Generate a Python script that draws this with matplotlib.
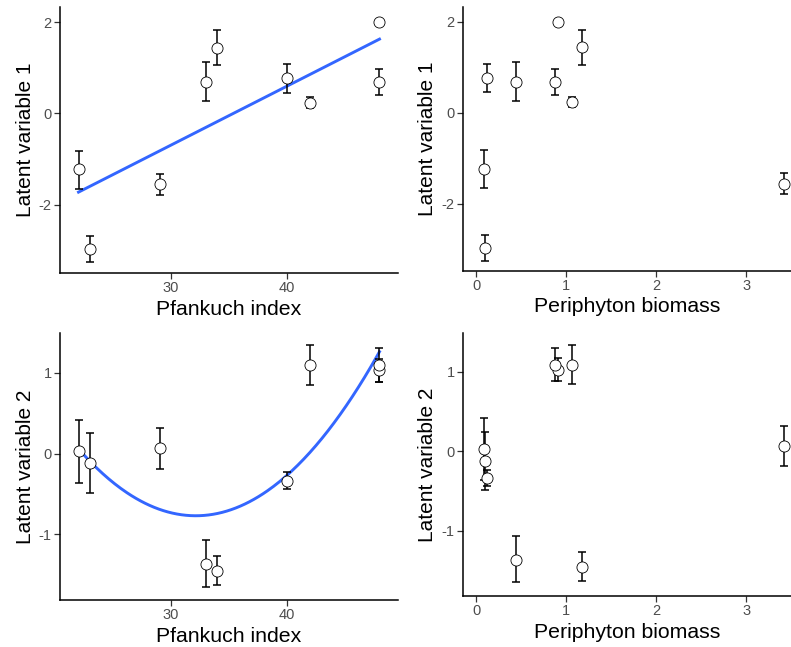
import numpy as np
import matplotlib
matplotlib.use("Agg")
import matplotlib.pyplot as plt

plt.rcParams['font.family'] = ['Liberation Sans', 'DejaVu Sans']
plt.rcParams['axes.unicode_minus'] = False

# Site data (9 sites)
pfankuch = [22, 23, 29, 33, 34, 40, 42, 48, 48]
periphyton = [0.085, 0.10, 3.42, 0.44, 1.17, 0.12, 1.06, 0.91, 0.87]

lv1 = [-1.23, -2.97, -1.56, 0.69, 1.44, 0.77, 0.23, 2.00, 0.69]
lv1_lo = [-1.65, -3.26, -1.78, 0.26, 1.05, 0.45, 0.12, 1.97, 0.40]
lv1_hi = [-0.82, -2.69, -1.33, 1.13, 1.83, 1.08, 0.35, 2.03, 0.97]

lv2 = [0.03, -0.12, 0.07, -1.37, -1.45, -0.34, 1.09, 1.03, 1.09]
lv2_lo = [-0.36, -0.49, -0.19, -1.65, -1.63, -0.44, 0.85, 0.88, 0.88]
lv2_hi = [0.42, 0.25, 0.32, -1.07, -1.27, -0.23, 1.34, 1.17, 1.30]

pf_ticks = [30, 40]
per_ticks = [0, 1, 2, 3]
lv1_ticks = [-2, 0, 2]
lv2_ticks = [-1, 0, 1]

W, H = 791, 647
fig = plt.figure(figsize=(W / 100, H / 100), dpi=100)

def ax_at(l, t, r, b):
    return fig.add_axes([l / W, 1 - b / H, (r - l) / W, (b - t) / H])

def panel(ax, x, y, lo, hi, xlim, ylim, xticks, yticks, xlabel, ylabel, fit_deg=None):
    x = np.asarray(x, float); y = np.asarray(y, float)
    lo = np.asarray(lo); hi = np.asarray(hi)
    if fit_deg is not None:
        c = np.polyfit(x, y, fit_deg)
        xs = np.linspace(x.min(), x.max(), 200)
        ax.plot(xs, np.polyval(c, xs), color='#3366FF', lw=2.1, zorder=2)
    ax.errorbar(x, y, yerr=[y - lo, hi - y], fmt='none', ecolor='black',
                elinewidth=1.1, capsize=2.9, capthick=1.1, zorder=3)
    ax.plot(x, y, 'o', ms=8, mfc='white', mec='black', mew=0.6, zorder=4)
    ax.set_xlim(*xlim); ax.set_ylim(*ylim)
    ax.set_xticks(xticks); ax.set_yticks(yticks)
    ax.set_xlabel(xlabel, fontsize=15.3, labelpad=3)
    ax.set_ylabel(ylabel, fontsize=15, labelpad=3)
    for s in ['top', 'right']:
        ax.spines[s].set_visible(False)
    for s in ['left', 'bottom']:
        ax.spines[s].set_linewidth(1.1)
        ax.spines[s].set_color('black')
    ax.tick_params(axis='both', labelsize=10.5, labelcolor='#4D4D4D', color='#333333',
                   length=4, width=0.9, pad=2)

ax1 = ax_at(60, 7, 398, 273)
panel(ax1, pfankuch, lv1, lv1_lo, lv1_hi, (20.4, 49.6), (-3.5, 2.33), pf_ticks, lv1_ticks,
      'Pfankuch index', 'Latent variable 1', fit_deg=1)
ax2 = ax_at(463, 7, 791, 271)
panel(ax2, periphyton, lv1, lv1_lo, lv1_hi, (-0.15, 3.5), (-3.48, 2.33), per_ticks, lv1_ticks,
      'Periphyton biomass', 'Latent variable 1')
ax3 = ax_at(60, 333, 398, 600)
panel(ax3, pfankuch, lv2, lv2_lo, lv2_hi, (20.4, 49.6), (-1.81, 1.49), pf_ticks, lv2_ticks,
      'Pfankuch index', 'Latent variable 2', fit_deg=2)
ax4 = ax_at(463, 333, 791, 596)
panel(ax4, periphyton, lv2, lv2_lo, lv2_hi, (-0.15, 3.5), (-1.82, 1.49), per_ticks, lv2_ticks,
      'Periphyton biomass', 'Latent variable 2')

fig.savefig('out.png', dpi=100)
